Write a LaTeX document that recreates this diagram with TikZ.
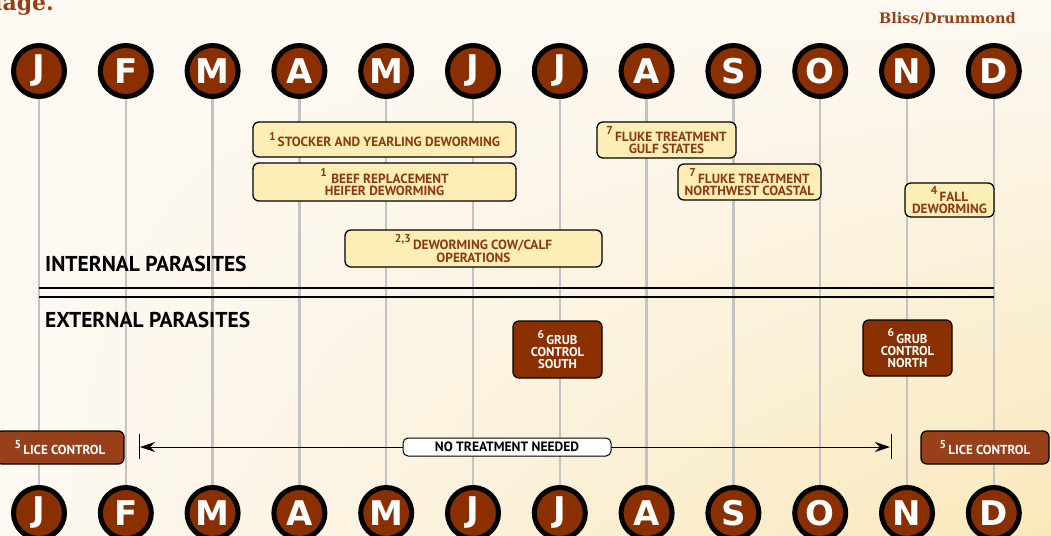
\documentclass[tikz,border=0pt]{standalone}
\usepackage{fontspec}
\setmainfont{PT Sans}
\newfontfamily\monthfont{DejaVu Sans}
\newfontfamily\headserif{DejaVu Serif}
\usetikzlibrary{arrows.meta,shadings}
\definecolor{bgA}{HTML}{FDF9F3}
\definecolor{bgB}{HTML}{F9E8BA}
\definecolor{brownM}{HTML}{8A3000}
\definecolor{boxY}{HTML}{FDEDB6}
\definecolor{boxT}{HTML}{8B3A0F}
\definecolor{liceB}{HTML}{97401A}
\definecolor{greyL}{HTML}{C3C3C5}
\definecolor{titleB}{HTML}{9A3F14}
\newcommand{\supn}[1]{\raisebox{0.5em}{\fontsize{11.5}{11.5}\selectfont #1}\,}
\pgfdeclarelayer{bglayer}
\pgfdeclarelayer{gridlayer}
\pgfsetlayers{bglayer,gridlayer,main}
\tikzset{
  month/.style={circle, fill=brownM, draw=black, line width=5pt, minimum size=51pt, inner sep=0pt,
    text=white, font=\monthfont\bfseries\fontsize{34}{34}\selectfont},
  gridline/.style={greyL, line width=2.5pt},
  ybox/.style={draw=black, line width=1.3pt, rounded corners=6pt, fill=boxY, text=boxT,
    font=\bfseries\fontsize{13.3}{12.4}\selectfont, align=center, inner sep=0pt},
  dbox/.style={draw=black, line width=1.3pt, rounded corners=6pt, fill=brownM, text=white,
    font=\bfseries\fontsize{12.8}{12.0}\selectfont, align=center, inner sep=0pt},
  licebox/.style={dbox, fill=liceB, font=\bfseries\fontsize{13}{13}\selectfont},
  sectitle/.style={anchor=base west, inner sep=0pt, text=black, font=\bfseries\fontsize{21.5}{21.5}\selectfont},
  rule/.style={black, line width=2pt},
  endbar/.style={black, line width=1pt},
  spanarrow/.style={black, line width=1pt, {Stealth[length=15pt,width=10pt]}-{Stealth[length=15pt,width=10pt]}},
  notebox/.style={draw=black, line width=1pt, rounded corners=5pt, fill=white, text=black,
    font=\bfseries\fontsize{13.5}{13.5}\selectfont, minimum width=208pt, minimum height=18pt, inner sep=0pt}
}
\begin{document}
\begin{tikzpicture}[x=1pt,y=-1pt]
\useasboundingbox (0,0) rectangle (1051,535);
\clip (0,0) rectangle (1051,535);
\begin{pgfonlayer}{bglayer}
\shade[upper left=bgA, upper right=bgA, lower left=bgA, lower right=bgB] (0,0) rectangle (1051,535);
\end{pgfonlayer}
% title fragments
\node[anchor=base west, inner sep=0pt, text=titleB, font=\headserif\bfseries\fontsize{22}{22}\selectfont] (ttl) at (-6,11) {lage.};
\node[anchor=base east, inner sep=0pt, text=titleB, font=\headserif\bfseries\fontsize{14.5}{14.5}\selectfont] (auth) at (1016,24) {Bliss/Drummond};
% months
\foreach \m [count=\i] in {J,F,M,A,M,J,J,A,S,O,N,D} {
  \pgfmathsetmacro\xx{39+86.8*(\i-1)}
  \node[month] (t\i) at (\xx,71) {\m};
  \node[month] (b\i) at (\xx,513) {\m};
  \begin{pgfonlayer}{gridlayer}
    \draw[gridline] (t\i.south) -- (b\i.north);
  \end{pgfonlayer}
}
% section titles and rule
\node[sectitle] (int) at (45,271) {INTERNAL PARASITES};
\node[sectitle] (ext) at (45,327.5) {EXTERNAL PARASITES};
\draw[rule] (39,287.5) -- (994,287.5);
\draw[rule] (39,297) -- (994,297);
% internal parasite boxes
\node[ybox, minimum width=263pt, minimum height=35pt] (stock) at (384.5,139.5) {\supn{1}STOCKER AND YEARLING DEWORMING};
\node[ybox, minimum width=263pt, minimum height=38pt] (heifer) at (384.5,182) {\supn{1}\,BEEF REPLACEMENT\\HEIFER DEWORMING};
\node[ybox, minimum width=257pt, minimum height=37pt] (cowcalf) at (473.5,248.5) {\supn{2,3}DEWORMING COW/CALF\\OPERATIONS};
\node[ybox, minimum width=139pt, minimum height=36pt] (gulf) at (666.5,140) {\supn{7}FLUKE TREATMENT\\GULF STATES};
\node[ybox, minimum width=143pt, minimum height=36pt] (nw) at (749.5,182) {\supn{7}FLUKE TREATMENT\\NORTHWEST COASTAL};
\node[ybox, minimum width=89pt, minimum height=34pt] (fall) at (949.5,200) {\supn{4}FALL\\DEWORMING};
% external parasite boxes
\node[dbox, minimum width=89pt, minimum height=57pt] (grubS) at (557.5,349.5) {\supn{6}GRUB\\CONTROL\\SOUTH};
\node[dbox, minimum width=89pt, minimum height=56pt] (grubN) at (907.5,348) {\supn{6}GRUB\\CONTROL\\NORTH};
\node[licebox, minimum width=128pt, minimum height=33pt] (liceL) at (60,447.5) {\supn{5}LICE CONTROL};
\node[licebox, minimum width=128pt, minimum height=33pt] (liceR) at (985,447.5) {\supn{5}LICE CONTROL};
% no treatment span
\coordinate (nl) at (140,447);
\coordinate (nr) at (890,447);
\draw[endbar] (139,433.5) -- (139,459);
\draw[endbar] (891,433.5) -- (891,459);
\draw[spanarrow] (nl) -- (nr);
\node[notebox] (none) at (507,447) {NO TREATMENT NEEDED};
\end{tikzpicture}
\end{document}
